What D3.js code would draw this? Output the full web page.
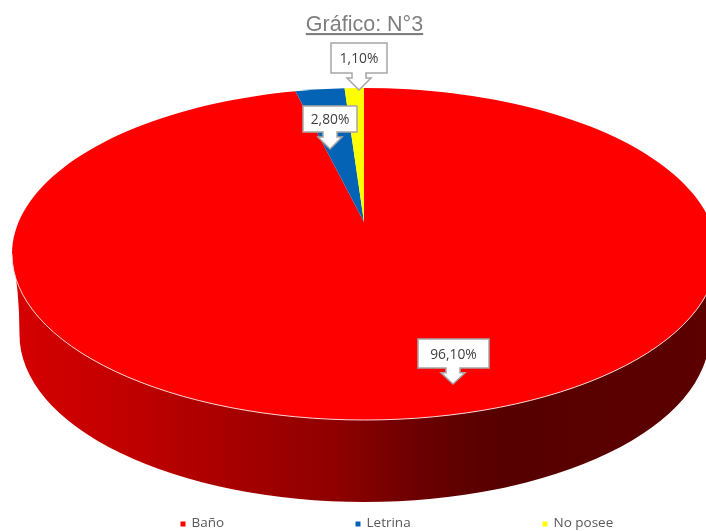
<!DOCTYPE html>
<html>
<head>
<meta charset="utf-8">
<script src="https://cdnjs.cloudflare.com/ajax/libs/d3/7.8.5/d3.min.js"></script>
<style>
html, body { margin: 0; padding: 0; background: #fff; overflow: hidden; }
svg { display: block; filter: blur(0.5px); }
</style>
</head>
<body>
<svg width="706" height="531"></svg>
<script>
const categories = ["Baño", "Letrina", "No posee"];
const values = [96.1, 2.8, 1.1];
const title = "Gráfico: N°3";

const colors = ["#ff0000", "#0563b5", "#ffff00"];
const legendX = [183, 358, 545];
// callout box [x, y, w, h], arrow tip [x, y]
const callouts = [
    {box: [418, 339, 71, 29], tip: [453, 384]},
    {box: [303, 106, 54, 26], tip: [330, 149]},
    {box: [331, 43, 56, 30], tip: [359, 90]}
];

const svg = d3.select("svg");
const font = "'Liberation Sans', Arial, sans-serif";

// top ellipse and the smaller one underneath (fake perspective)
const top_e = {cx: 364.5, cy: 254, rx: 352.5, ry: 166};
const bot_e = {cx: 364.5, cy: 335, rx: 345, ry: 167};
const apex = [364, 222];
const tilt = 2.1;

const defs = svg.append("defs");
const grad = defs.append("linearGradient")
    .attr("id", "side")
    .attr("gradientUnits", "userSpaceOnUse")
    .attr("x1", 12).attr("x2", 706).attr("y1", 0).attr("y2", 0);
[[0, "#d60000"], [0.17, "#c00000"], [0.31, "#a80000"], [0.47, "#8e0000"], [0.59, "#6a0000"], [0.7, "#560000"], [1, "#5c0000"]]
    .forEach(s => grad.append("stop").attr("offset", s[0]).attr("stop-color", s[1]));

// where the ray from the apex at pie angle a hits the top ellipse
function edgePoint(a) {
    const dx = tilt * Math.sin(a), dy = -Math.cos(a);
    const ox = (apex[0] - top_e.cx) / top_e.rx, oy = (apex[1] - top_e.cy) / top_e.ry;
    const ux = dx / top_e.rx, uy = dy / top_e.ry;
    const A = ux * ux + uy * uy, B = 2 * (ox * ux + oy * uy), C = ox * ox + oy * oy - 1;
    const s = (-B + Math.sqrt(B * B - 4 * A * C)) / (2 * A);
    return [apex[0] + dx * s, apex[1] + dy * s];
}

function slicePath(d) {
    const p0 = edgePoint(d.startAngle), p1 = edgePoint(d.endAngle);
    const large = d.endAngle - d.startAngle > Math.PI ? 1 : 0;
    return `M${apex}L${p0}A${top_e.rx},${top_e.ry} 0 ${large} 1 ${p1}Z`;
}

const pie = d3.pie().sort(null).value(d => d);
const arcs = pie(values);

// side wall, curved into the lower ellipse so there is no kink
const botL = bot_e.cx - bot_e.rx, botR = bot_e.cx + bot_e.rx;
svg.append("path")
    .attr("d", `M${top_e.cx - top_e.rx},${top_e.cy}Q${botL},${bot_e.cy - 45} ${botL},${bot_e.cy}` +
        `A${bot_e.rx},${bot_e.ry} 0 0 0 ${botR},${bot_e.cy}` +
        `Q${botR},${bot_e.cy - 45} ${top_e.cx + top_e.rx},${top_e.cy}Z`)
    .attr("fill", "url(#side)");

// top surface
svg.append("g").selectAll("path")
    .data(arcs)
    .join("path")
    .attr("d", slicePath)
    .attr("fill", (d, i) => colors[i]);

// light rim along the front
svg.append("path")
    .attr("d", `M${top_e.cx - top_e.rx},${top_e.cy}` +
        `A${top_e.rx},${top_e.ry} 0 0 0 ${top_e.cx + top_e.rx},${top_e.cy}`)
    .attr("fill", "none")
    .attr("stroke", "#ffd8d8")
    .attr("stroke-width", 1);

// data labels
const fmt = v => v.toFixed(2).replace(".", ",") + "%";
const label = svg.append("g").selectAll("g")
    .data(callouts)
    .join("g");

label.append("path")
    .attr("d", d => {
        const [x, y, w, h] = d.box;
        const [tx, ty] = d.tip;
        const b = y + h, neck = b + (ty - b) * 0.3;
        return `M${x},${y}H${x + w}V${b}H${tx + 7}V${neck}H${tx + 12}L${tx},${ty}L${tx - 12},${neck}H${tx - 7}V${b}H${x}Z`;
    })
    .attr("fill", "#fff")
    .attr("stroke", "#a6a6a6")
    .attr("stroke-width", 1.5);

label.append("text")
    .attr("x", d => d.box[0] + d.box[2] / 2)
    .attr("y", d => d.box[1] + d.box[3] / 2 + 5)
    .attr("text-anchor", "middle")
    .attr("font-family", "'Open Sans', sans-serif")
    .attr("font-size", 13.8)
    .attr("fill", "#404040")
    .text((d, i) => fmt(values[i]));

// title
svg.append("text")
    .attr("x", 364.5)
    .attr("y", 31)
    .attr("text-anchor", "middle")
    .attr("font-family", font)
    .attr("font-size", 21.5)
    .attr("fill", "#7f7f7f")
    .attr("text-decoration", "underline")
    .text(title);

// legend
const legend = svg.append("g").selectAll("g")
    .data(categories)
    .join("g")
    .attr("transform", (d, i) => `translate(${legendX[i]},524)`);

legend.append("rect")
    .attr("x", -2.5).attr("y", -2.5)
    .attr("width", 5).attr("height", 5)
    .attr("fill", (d, i) => colors[i]);

legend.append("text")
    .attr("x", 8.5)
    .attr("y", 2.5)
    .attr("font-family", "'Open Sans', sans-serif")
    .attr("font-size", 13.5)
    .attr("fill", "#595959")
    .text(d => d);
</script>
</body>
</html>
